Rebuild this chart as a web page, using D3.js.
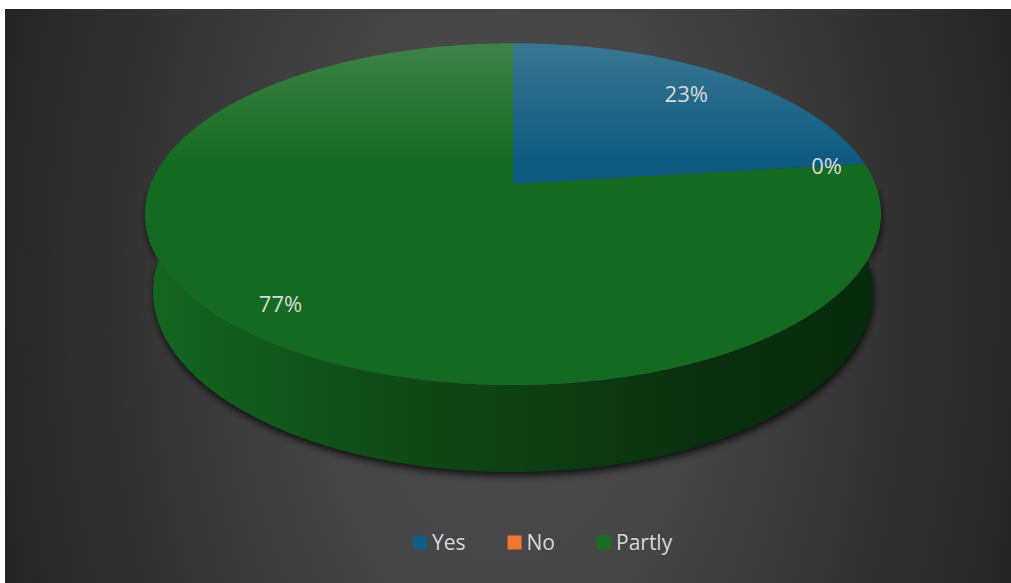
<!DOCTYPE html>
<html>
<head>
<meta charset="utf-8">
<script src="https://cdn.jsdelivr.net/npm/d3@7"></script>
<style>
  html, body { margin: 0; padding: 0; background: #ffffff; }
  svg { display: block; }
</style>
</head>
<body>
<svg id="chart" width="1011" height="583"></svg>
<script>
// Survey answers, in percent
const categories = ["Yes", "No", "Partly"];
const values = [23, 0, 77];
const sliceColors = ["#0d5a80", "#e97132", "#156a21"];
const labelTexts = ["23%", "0%", "77%"];

// Radial position of each data label, as a fraction of the pie radius
const labelRadius = [0.80, 0.89, 0.86];

const W = 1011, H = 583;
const svg = d3.select("#chart");
const defs = svg.append("defs");

// ---- chart area background: soft radial glow on charcoal ----
const bg = defs.append("radialGradient")
  .attr("id", "bgGrad")
  .attr("gradientUnits", "userSpaceOnUse")
  .attr("cx", 508).attr("cy", 300).attr("r", 520)
  .attr("gradientTransform", "translate(508,300) scale(1,1.75) translate(-508,-300)");
[[0, "#4a4a4a"], [0.35, "#464646"], [1, "#252525"]].forEach(([o, c]) =>
  bg.append("stop").attr("offset", o).attr("stop-color", c));

svg.append("rect")
  .attr("x", 5).attr("y", 9).attr("width", W - 5).attr("height", H - 9)
  .attr("fill", "url(#bgGrad)");

// ---- perspective projection of a tilted disk ----
const CX = 513, CY = 184;          // screen position of the disk centre
const FOCAL = 1826, DIST = 5.041;  // camera focal length and distance
const SIN = 0.457, COS = Math.sqrt(1 - SIN * SIN); // camera elevation
const THICK = 0.242;               // disk thickness (in radii)

function project(theta, r, z) {
  const x = r * Math.sin(theta), y = r * Math.cos(theta);
  const u = y * SIN + z * COS;
  const depth = y * COS - z * SIN + DIST;
  return [CX + FOCAL * x / depth, CY - FOCAL * u / depth];
}

const angleStep = d3.scaleLinear().domain([0, 1]);
function arcPoints(a0, a1, z) {
  const n = Math.max(2, Math.ceil(Math.abs(a1 - a0) / (Math.PI / 180)) * 2);
  angleStep.range([a0, a1]);
  return d3.range(n + 1).map(i => project(angleStep(i / n), 1, z));
}

const closedLine = d3.line().curve(d3.curveLinearClosed);

const pie = d3.pie().sort(null).value(d => d)
  .startAngle(0).endAngle(2 * Math.PI);
const slices = pie(values);

// ---- side wall gradients (lit from the left, falling into shadow) ----
slices.forEach((s, i) => {
  const g = defs.append("linearGradient")
    .attr("id", "side" + i)
    .attr("gradientUnits", "userSpaceOnUse")
    .attr("x1", 150).attr("y1", 0).attr("x2", 880).attr("y2", 0);
  [[0, 0.12], [0.29, 0.85], [0.5, 1.4], [0.75, 2.2], [1, 2.6]].forEach(([o, k]) =>
    g.append("stop").attr("offset", o)
      .attr("stop-color", d3.color(sliceColors[i]).darker(k).formatHex()));
});

// Highlight across the far part of the top face
const sheen = defs.append("linearGradient")
  .attr("id", "sheen")
  .attr("gradientUnits", "userSpaceOnUse")
  .attr("x1", 0).attr("y1", 44).attr("x2", 0).attr("y2", 160);
sheen.append("stop").attr("offset", 0).attr("stop-color", "#c8d0c8").attr("stop-opacity", 0.24);
sheen.append("stop").attr("offset", 1).attr("stop-color", "#c8d0c8").attr("stop-opacity", 0);

// Drop shadow under the disk
const shadow = defs.append("filter").attr("id", "shadow")
  .attr("x", "-10%").attr("y", "-10%").attr("width", "120%").attr("height", "130%");
shadow.append("feGaussianBlur").attr("stdDeviation", 3.5);

// Wall segments: the near half of the rim faces the viewer
const FRONT0 = Math.PI / 2, FRONT1 = 3 * Math.PI / 2;
const walls = slices.map((s, i) => {
  const b0 = Math.max(s.startAngle, FRONT0), b1 = Math.min(s.endAngle, FRONT1);
  if (b1 <= b0) return null;
  return { i, pts: arcPoints(b0, b1, 0).concat(arcPoints(b1, b0, -THICK)) };
}).filter(Boolean);

const disk = svg.append("g");

// shadow silhouette: full bottom rim plus top face
const silhouette = arcPoints(FRONT0, FRONT1, 0).concat(arcPoints(FRONT1, FRONT0, -THICK));
disk.append("path")
  .attr("d", closedLine(silhouette))
  .attr("transform", "translate(1,4)")
  .attr("fill", "#000").attr("opacity", 0.75)
  .attr("filter", "url(#shadow)");

disk.selectAll("path.wall").data(walls).join("path")
  .attr("class", "wall")
  .attr("d", d => closedLine(d.pts))
  .attr("fill", d => `url(#side${d.i})`);

// top faces
disk.selectAll("path.top").data(slices.filter(s => s.endAngle > s.startAngle)).join("path")
  .attr("class", "top")
  .attr("d", s => closedLine([project(0, 0, 0)].concat(arcPoints(s.startAngle, s.endAngle, 0))))
  .attr("fill", s => sliceColors[s.index]);

disk.append("path")
  .attr("d", closedLine(arcPoints(0, 2 * Math.PI, 0)))
  .attr("fill", "url(#sheen)");

// ---- data labels ----
svg.append("g").selectAll("text").data(slices).join("text")
  .attr("x", s => project((s.startAngle + s.endAngle) / 2, labelRadius[s.index], 0)[0])
  .attr("y", s => project((s.startAngle + s.endAngle) / 2, labelRadius[s.index], 0)[1])
  .attr("dy", "0.36em")
  .attr("text-anchor", "middle")
  .attr("font-family", "'Open Sans', sans-serif")
  .attr("font-size", 22)
  .attr("fill", "#d9d9d9")
  .text(s => labelTexts[s.index]);

// ---- legend ----
const legend = svg.append("g").attr("font-family", "'Open Sans', sans-serif").attr("font-size", 21);
let lx = 413;
categories.forEach((name, i) => {
  legend.append("rect")
    .attr("x", lx).attr("y", 535.5).attr("width", 14).attr("height", 14)
    .attr("fill", d3.color(sliceColors[i]).brighter(0.1).formatHex());
  const t = legend.append("text")
    .attr("x", lx + 19).attr("y", 549.5)
    .attr("fill", "#d9d9d9")
    .text(name);
  lx = lx + 19 + t.node().getComputedTextLength() + 42;
});
</script>
</body>
</html>
